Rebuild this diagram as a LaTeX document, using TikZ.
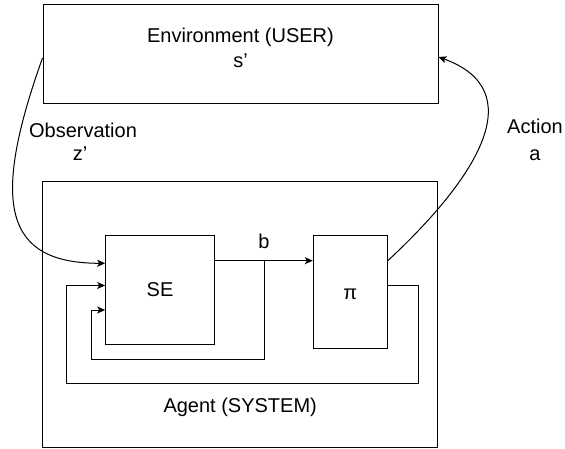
\documentclass[tikz,border=0pt]{standalone}
\usepackage{fontspec}
\setmainfont{Liberation Sans}
\usetikzlibrary{arrows.meta}
\begin{document}
\begin{tikzpicture}[x=1pt,y=-1pt,
  box/.style={draw=black,line width=1pt,inner sep=0pt,minimum width=#1},
  lbl/.style={font=\fontsize{20}{24}\selectfont,inner sep=0pt,anchor=base},
  wire/.style={draw=black,line width=1pt},
  arr/.style={wire,-{Stealth[length=8pt,width=7pt,inset=2pt]}}]
\useasboundingbox (0,0) rectangle (565,449);
% boxes
\node[box=395pt,minimum height=99pt] (env) at (240.5,54.5) {};
\node[box=395pt,minimum height=265pt] (agent) at (240.2,314.5) {};
\node[box=108.6pt,minimum height=108.3pt] (se) at (160,289.9) {};
\node[box=74pt,minimum height=112.7pt] (pi) at (350.3,292.3) {};
% texts
\node[lbl] (envt) at (240.5,43) {Environment (USER)};
\node[lbl] (envs) at (240.5,68) {s'};
\node[lbl] (agentt) at (240.2,412.7) {Agent (SYSTEM)};
\node[lbl] (set) at (160,296) {SE};
\node[lbl] (pit) at (350.3,299.3) {π};
\node[lbl] (bt) at (264,248.3) {b};
\node[lbl] (obs) at (83,138) {Observation};
\node[lbl] (obsz) at (80,161) {z'};
\node[lbl] (act) at (535,134) {Action};
\node[lbl] (acta) at (535,161) {a};
% helper coordinates
\coordinate (bj) at (264,260.7);
\coordinate (yin) at (0,310);
\coordinate (yout) at (0,285.5);
\coordinate (yobs) at (0,263.3);
\coordinate (yact) at (0,57);
% b connector
\draw[arr] (se.east |- bj) -- (pi.west |- bj);
% inner feedback
\draw[arr] (bj) |- (91,359) |- (se.west |- yin);
% outer feedback
\draw[arr] (pi.east |- yout) -| (418,383.5) -| (66,285.5) -- (se.west |- yout);
% observation
\draw[arr] ([yshift=-3.5pt]env.west) .. controls (-10,205) and (5,263.3) .. (se.west |- yobs);
% action
\draw[arr] (pi.east |- bj) .. controls (480,175) and (530,90) .. (env.east |- yact);
\end{tikzpicture}
\end{document}
